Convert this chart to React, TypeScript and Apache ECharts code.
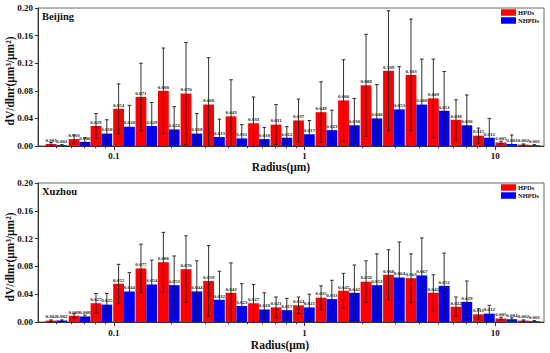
import React, { useEffect, useRef } from "react";
import * as echarts from "echarts";

const radius = [0.05, 0.066, 0.086, 0.113, 0.148, 0.194, 0.255, 0.335, 0.439, 0.576, 0.756, 0.992, 1.302, 1.708, 2.241, 2.94, 3.857, 5.051, 6.641, 8.713, 11.432, 15.0];

const beijingHPD = [0.003, 0.010, 0.029, 0.054, 0.071, 0.080, 0.076, 0.060, 0.043, 0.033, 0.031, 0.037, 0.049, 0.066, 0.088, 0.109, 0.103, 0.069, 0.038, 0.015, 0.005, 0.002];
const beijingHPDErr = [0.002, 0.006, 0.018, 0.036, 0.049, 0.062, 0.074, 0.068, 0.053, 0.038, 0.029, 0.031, 0.044, 0.059, 0.074, 0.087, 0.081, 0.057, 0.029, 0.011, 0.002, 0.001];
const beijingNHPD = [0.001, 0.006, 0.018, 0.028, 0.029, 0.024, 0.018, 0.013, 0.011, 0.010, 0.012, 0.017, 0.023, 0.030, 0.040, 0.053, 0.060, 0.051, 0.030, 0.012, 0.003, 0.001];
const beijingNHPDErr = [0.001, 0.006, 0.020, 0.031, 0.034, 0.033, 0.029, 0.026, 0.020, 0.017, 0.016, 0.020, 0.029, 0.039, 0.049, 0.062, 0.066, 0.057, 0.044, 0.028, 0.013, 0.001];

const xuzhouHPD = [0.002, 0.009, 0.027, 0.055, 0.077, 0.086, 0.076, 0.059, 0.042, 0.027, 0.021, 0.024, 0.035, 0.045, 0.058, 0.068, 0.063, 0.042, 0.022, 0.011, 0.005, 0.002];
const xuzhouHPDErr = [0.001, 0.003, 0.014, 0.028, 0.035, 0.043, 0.048, 0.051, 0.043, 0.027, 0.015, 0.012, 0.017, 0.025, 0.030, 0.036, 0.035, 0.026, 0.014, 0.008, 0.002, 0.001];
const xuzhouNHPD = [0.002, 0.008, 0.025, 0.044, 0.054, 0.053, 0.044, 0.032, 0.023, 0.018, 0.017, 0.021, 0.033, 0.042, 0.053, 0.064, 0.067, 0.052, 0.029, 0.012, 0.004, 0.001];
const xuzhouNHPDErr = [0.001, 0.002, 0.016, 0.027, 0.035, 0.042, 0.044, 0.041, 0.032, 0.024, 0.017, 0.019, 0.027, 0.040, 0.045, 0.051, 0.054, 0.047, 0.030, 0.012, 0.002, 0.001];

const majorTicks = [0.1, 1, 10];
const minorTicks = [0.05, 0.06, 0.07, 0.08, 0.09, 0.2, 0.3, 0.4, 0.5, 0.6, 0.7, 0.8, 0.9, 2, 3, 4, 5, 6, 7, 8, 9];
const yTicks = { min: 0, max: 0.2, interval: 0.04 };
const xRange = { min: 0.04, max: 18 };

const FONT = "'Liberation Serif', 'Times New Roman', serif";
const RED = "#ff0000";
const BLUE = "#0000ff";
const HALF = Math.log10(radius[1] / radius[0]) / 2;

function barSeries(name: string, color: string, side: number, vals: number[], errs: number[], xi: number, yi: number) {
  return {
    type: "custom",
    name,
    xAxisIndex: xi,
    yAxisIndex: yi,
    itemStyle: { color },
    clip: false,
    encode: { x: 0, y: 1 },
    data: radius.map((r, i) => [r, vals[i], errs[i]]),
    renderItem: (params: any, api: any) => {
      const r = api.value(0);
      const v = api.value(1);
      const e = api.value(2);
      const c = api.coord([r, 0]);
      const edge = api.coord([r * Math.pow(10, HALF), 0]);
      const half = edge[0] - c[0];
      const w = half * 0.94;
      const x0 = side < 0 ? c[0] - w : c[0];
      const top = api.coord([r, v])[1];
      const base = c[1];
      const mid = x0 + w / 2;
      const hi = api.coord([r, v + e])[1];
      const loVal = v - e;
      const lo = api.coord([r, Math.max(0, loVal)])[1];
      const cap = 1.8;
      const ls = { stroke: "#1a1a1a", lineWidth: 0.9 };
      const children: any[] = [
        { type: "rect", shape: { x: x0, y: top, width: w, height: base - top }, style: { fill: color } },
        { type: "line", z2: 5, shape: { x1: mid, y1: lo, x2: mid, y2: hi }, style: ls },
        { type: "line", z2: 5, shape: { x1: mid - cap, y1: hi, x2: mid + cap, y2: hi }, style: ls },
      ];
      if (loVal > 0) {
        children.push({ type: "line", z2: 5, shape: { x1: mid - cap, y1: lo, x2: mid + cap, y2: lo }, style: ls });
      }
      children.push({
        type: "text",
        z2: 10,
        x: mid,
        y: top - 1.2,
        style: {
          text: v.toFixed(3),
          fontSize: 5,
          fontWeight: "bold",
          fontFamily: FONT,
          fill: "#222",
          align: "center",
          verticalAlign: "bottom",
        },
      });
      return { type: "group", children };
    },
  };
}

function xAxes(gridIndex: number, margin: number) {
  return [
    {
      type: "log",
      gridIndex,
      position: "bottom",
      logBase: 10,
      min: xRange.min,
      max: xRange.max,
      axisLine: { show: true, lineStyle: { color: "#333", width: 1 } },
      axisTick: { show: true, inside: false, length: 4, customValues: majorTicks, lineStyle: { color: "#333" } },
      axisLabel: {
        customValues: majorTicks,
        margin,
        fontSize: 9,
        fontWeight: "bold",
        fontFamily: FONT,
        color: "#111",
        formatter: (v: number) => (v >= 1 ? String(Math.round(v)) : String(v)),
      },
      splitLine: { show: false },
      minorTick: { show: false },
    },
    {
      type: "log",
      gridIndex,
      position: "bottom",
      logBase: 10,
      min: xRange.min,
      max: xRange.max,
      axisLine: { show: false },
      axisTick: { show: true, inside: false, length: 2.2, customValues: minorTicks, lineStyle: { color: "#333" } },
      axisLabel: { show: false },
      splitLine: { show: false },
    },
  ];
}

function yAxis(gridIndex: number) {
  return {
    type: "value",
    gridIndex,
    min: yTicks.min,
    max: yTicks.max,
    interval: yTicks.interval,
    axisLine: { show: true, lineStyle: { color: "#333", width: 1 } },
    axisTick: { show: true, inside: false, length: 3, lineStyle: { color: "#333" } },
    axisLabel: {
      margin: 5,
      fontSize: 9,
      fontWeight: "bold",
      fontFamily: FONT,
      color: "#111",
      formatter: (v: number) => v.toFixed(2),
    },
    splitLine: { show: false },
  };
}

function legend(top: number) {
  return {
    data: ["HPDs", "NHPDs"],
    orient: "vertical",
    left: 501,
    top,
    padding: 0,
    itemWidth: 15,
    itemHeight: 6.5,
    itemGap: 1,
    icon: "rect",
    selectedMode: false,
    textStyle: { fontSize: 6.5, fontWeight: "bold", fontFamily: FONT, color: "#111", padding: [0, 0, 0, -3] },
  };
}

function titleText(text: string, x: number, y: number) {
  return {
    type: "text",
    x,
    y,
    style: { text, fontSize: 10.5, fontWeight: "bold", fontFamily: FONT, fill: "#111", align: "left", verticalAlign: "middle" },
  };
}

function axisName(x: number, y: number) {
  return {
    type: "text",
    x,
    y,
    style: { text: "Radius(μm)", fontSize: 11.5, fontWeight: "bold", fontFamily: FONT, fill: "#111", align: "center", verticalAlign: "middle" },
  };
}

function yName(x: number, y: number) {
  return {
    type: "text",
    x,
    y,
    rotation: Math.PI / 2,
    style: { text: "dV/dlnr(μm³/μm²)", fontSize: 11.5, fontWeight: "bold", fontFamily: FONT, fill: "#111", align: "center", verticalAlign: "middle" },
  };
}

export default function App() {
  const ref = useRef<HTMLDivElement>(null);
  useEffect(() => {
    if (!ref.current) return;
    const chart = echarts.init(ref.current, null, { renderer: "svg" });
    chart.setOption({
      animation: false,
      backgroundColor: "#ffffff",
      grid: [
        { left: 38, top: 8, width: 506, height: 138, show: true, borderColor: "#666", borderWidth: 1, backgroundColor: "transparent" },
        { left: 38, top: 183, width: 506, height: 139, show: true, borderColor: "#666", borderWidth: 1, backgroundColor: "transparent" },
      ],
      xAxis: [...xAxes(0, 5), ...xAxes(1, 6)],
      yAxis: [yAxis(0), yAxis(1)],
      legend: [legend(9), legend(184)],
      series: [
        barSeries("HPDs", RED, -1, beijingHPD, beijingHPDErr, 0, 0),
        barSeries("NHPDs", BLUE, 1, beijingNHPD, beijingNHPDErr, 0, 0),
        barSeries("HPDs", RED, -1, xuzhouHPD, xuzhouHPDErr, 2, 1),
        barSeries("NHPDs", BLUE, 1, xuzhouNHPD, xuzhouNHPDErr, 2, 1),
      ],
      graphic: [
        titleText("Beijing", 42, 16.5),
        titleText("Xuzhou", 42, 191),
        axisName(281, 167),
        axisName(280, 345),
        yName(10, 81),
        yName(10, 257),
      ],
    });
    return () => chart.dispose();
  }, []);
  return <div ref={ref} style={{ position: "fixed", left: 0, top: 0, width: 550, height: 353 }} />;
}
